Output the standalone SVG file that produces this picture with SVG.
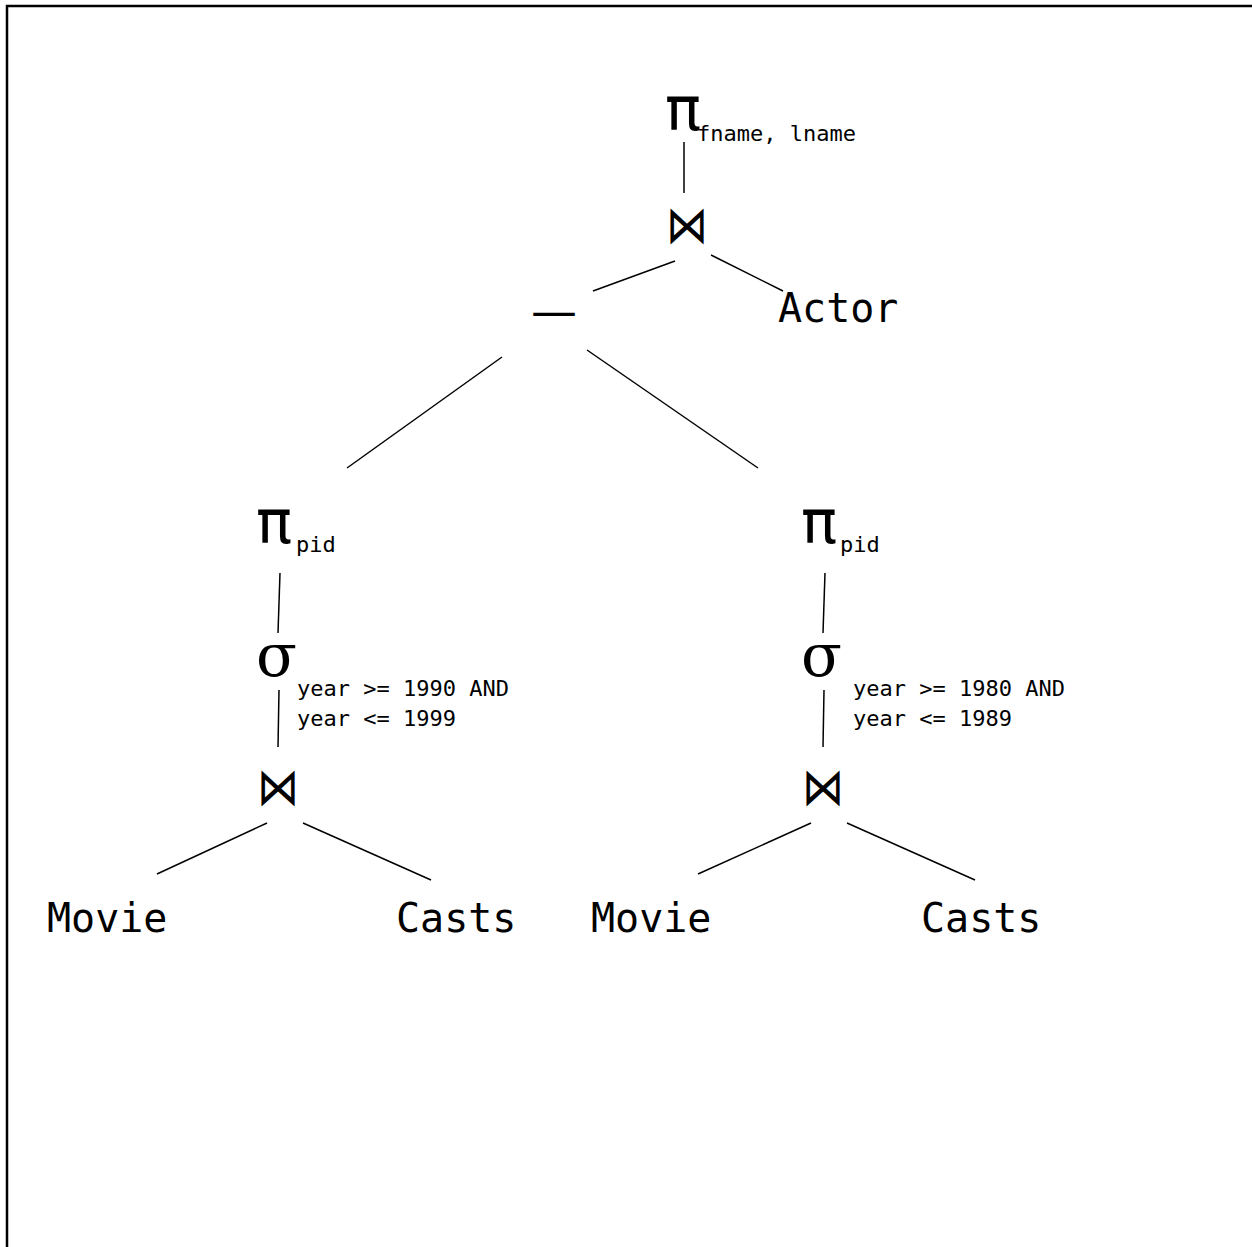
<svg xmlns="http://www.w3.org/2000/svg" width="1252" height="1247" viewBox="0 0 1252 1247">
<style>
.lbl{font-family:"DejaVu Sans Mono","Liberation Mono",monospace;font-size:40px;fill:#000}
.sub{font-family:"DejaVu Sans Mono","Liberation Mono",monospace;font-size:22px;fill:#000}
.pi{font-family:"DejaVu Sans",sans-serif;font-size:60px;fill:#000}
.sig{font-family:"DejaVu Serif","Liberation Serif",serif;font-size:60px;fill:#000}
.bow{font-family:"DejaVu Sans",sans-serif;font-size:42px;fill:#000}
.dash{font-family:"DejaVu Sans",sans-serif;font-size:46px;fill:#000}
.edge{stroke:#000;stroke-width:1.5;fill:none}
</style>
<rect width="1252" height="1247" fill="#fff"/>
<path d="M7,1247 V6 H1252" fill="none" stroke="#000" stroke-width="2.5"/>
<g id="connectors">
<line class="edge" x1="684" y1="142" x2="684" y2="193"/>
<line class="edge" x1="675" y1="261" x2="593" y2="291"/>
<line class="edge" x1="711" y1="255" x2="783" y2="291"/>
<line class="edge" x1="502" y1="357" x2="347" y2="468"/>
<line class="edge" x1="587" y1="350" x2="758" y2="468"/>
<line class="edge" x1="280" y1="573" x2="278" y2="633"/>
<line class="edge" x1="279" y1="690" x2="278" y2="747"/>
<line class="edge" x1="267" y1="823" x2="157" y2="874"/>
<line class="edge" x1="303" y1="823" x2="431" y2="880"/>
<line class="edge" x1="825" y1="573" x2="823" y2="633"/>
<line class="edge" x1="824" y1="690" x2="823" y2="747"/>
<line class="edge" x1="811" y1="823" x2="698" y2="874"/>
<line class="edge" x1="847" y1="823" x2="975" y2="880"/>
</g>
<g id="proj-top"><text class="pi" x="665" y="130">π</text><text class="sub" x="697" y="141">fname, lname</text></g>
<g id="join-top"><text class="bow" transform="translate(666,243) scale(1,1.25)">⋈</text></g>
<g id="minus"><text class="dash" x="531" y="327">—</text></g>
<g id="actor"><text class="lbl" x="778" y="322">Actor</text></g>
<g id="proj-left"><text class="pi" x="256" y="543">π</text><text class="sub" x="296" y="552">pid</text></g>
<g id="sel-left"><text class="sig" x="256" y="676">σ</text><text class="sub" x="297" y="696">year &gt;= 1990 AND</text><text class="sub" x="297" y="726">year &lt;= 1999</text></g>
<g id="join-left"><text class="bow" transform="translate(257,805) scale(1,1.25)">⋈</text></g>
<g id="movie-left"><text class="lbl" x="47" y="932">Movie</text></g>
<g id="casts-left"><text class="lbl" x="396" y="932">Casts</text></g>
<g id="proj-right"><text class="pi" x="801" y="543">π</text><text class="sub" x="840" y="552">pid</text></g>
<g id="sel-right"><text class="sig" x="801" y="676">σ</text><text class="sub" x="853" y="696">year &gt;= 1980 AND</text><text class="sub" x="853" y="726">year &lt;= 1989</text></g>
<g id="join-right"><text class="bow" transform="translate(802,805) scale(1,1.25)">⋈</text></g>
<g id="movie-right"><text class="lbl" x="591" y="932">Movie</text></g>
<g id="casts-right"><text class="lbl" x="921" y="932">Casts</text></g>
</svg>
